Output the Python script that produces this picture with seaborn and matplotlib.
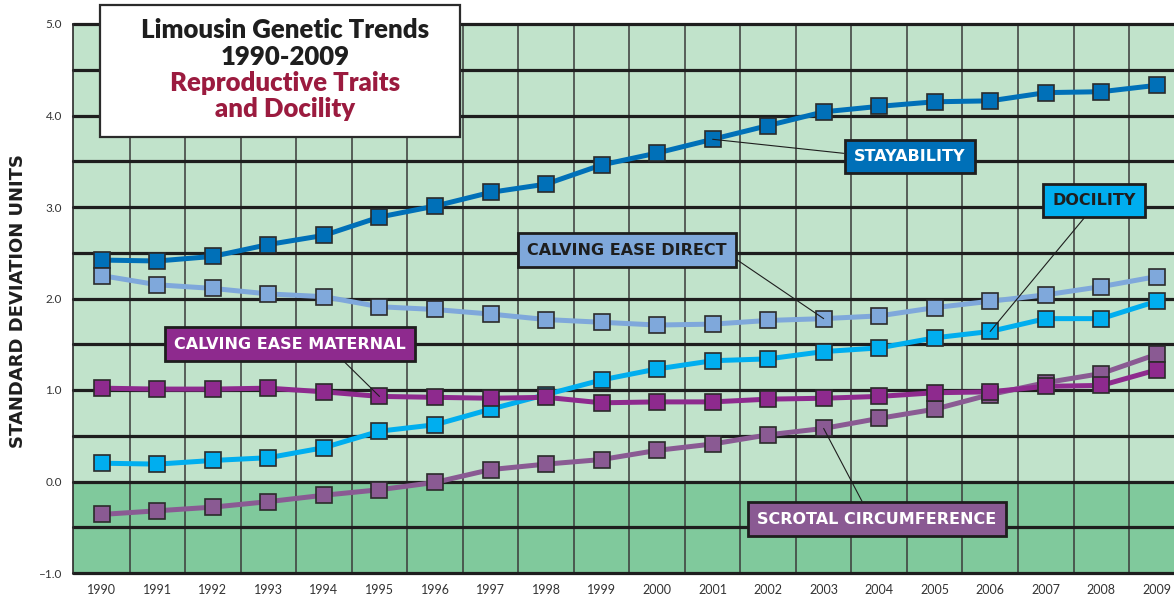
import numpy as np
import pandas as pd
import seaborn as sns
import matplotlib.pyplot as plt
from matplotlib.patches import Rectangle

years = list(range(1990, 2010))

stayability = [2.42, 2.41, 2.46, 2.59, 2.69, 2.89, 3.01, 3.16, 3.25, 3.46,
               3.59, 3.74, 3.89, 4.04, 4.10, 4.15, 4.16, 4.25, 4.26, 4.33]
calving_direct = [2.25, 2.15, 2.11, 2.05, 2.02, 1.91, 1.88, 1.83, 1.77, 1.74,
                  1.71, 1.72, 1.76, 1.78, 1.81, 1.90, 1.97, 2.04, 2.13, 2.24]
docility = [0.20, 0.19, 0.23, 0.26, 0.37, 0.55, 0.62, 0.79, 0.95, 1.11,
            1.23, 1.32, 1.34, 1.42, 1.46, 1.57, 1.64, 1.78, 1.78, 1.97]
scrotal = [-0.36, -0.32, -0.28, -0.22, -0.15, -0.09, -0.01, 0.13, 0.19, 0.24,
           0.34, 0.41, 0.51, 0.58, 0.69, 0.79, 0.95, 1.08, 1.18, 1.39]
calving_maternal = [1.02, 1.01, 1.01, 1.02, 0.98, 0.93, 0.92, 0.91, 0.92, 0.86,
                    0.87, 0.87, 0.90, 0.91, 0.93, 0.97, 0.98, 1.04, 1.05, 1.22]

traits = ["STAYABILITY", "CALVING EASE DIRECT", "DOCILITY",
          "SCROTAL CIRCUMFERENCE", "CALVING EASE MATERNAL"]
colors = {"STAYABILITY": "#0070b8", "CALVING EASE DIRECT": "#7fa8db",
          "DOCILITY": "#00aeef", "SCROTAL CIRCUMFERENCE": "#8a5a93",
          "CALVING EASE MATERNAL": "#8e2a8e"}
series = [stayability, calving_direct, docility, scrotal, calving_maternal]

df = pd.concat([pd.DataFrame({"year": years, "value": v, "trait": t})
                for t, v in zip(traits, series)], ignore_index=True)

sns.set_theme(style="white")
plt.rcParams["font.family"] = ["Lato", "DejaVu Sans"]

fig = plt.figure(figsize=(11.74, 6.02), dpi=100)
ax = fig.add_axes([73 / 1174, 29 / 602, 1101 / 1174, 549 / 602])

# background bands
ax.axhspan(0, 5, color="#c1e3cb", zorder=0)
ax.axhspan(-1, 0, color="#80c99c", zorder=0)

# grid
for x in np.arange(1990.5, 2009.5, 1):
    ax.axvline(x, color="#3a3a3a", lw=1.1, zorder=1)
for y in np.arange(-1, 5.01, 0.5):
    ax.axhline(y, color="#1e1e1e", lw=2.3, zorder=1, clip_on=False)

sns.lineplot(data=df, x="year", y="value", hue="trait", hue_order=traits,
             palette=colors, style="trait", style_order=traits,
             markers={t: "s" for t in traits}, dashes=False, linewidth=3.6,
             markersize=12, markeredgecolor="#2b2b2b", markeredgewidth=1.2,
             legend=False, ax=ax, zorder=3)

ax.set_xlim(1989.48, 2009.31)
ax.set_ylim(-1, 5)
ax.set_xticks(years)
ax.set_xticklabels([str(y) for y in years], fontsize=9, color="#333333")
ax.set_yticks(range(-1, 6))
ax.set_yticklabels([f"{v:.1f}".replace("-", "\u2013") for v in range(-1, 6)],
                   fontsize=8.5, color="#333333")
ax.tick_params(axis="both", length=0, pad=8)
ax.set_xlabel("")
ax.set_ylabel("")
for s in ["top", "right", "bottom"]:
    ax.spines[s].set_visible(False)
ax.spines["left"].set_color("#2b2b2b")
ax.spines["left"].set_linewidth(1.2)

# series labels
labels = [
    ("STAYABILITY", 2001, 3.74, 2004.55, 3.55, (0.0, 0.65), "white"),
    ("DOCILITY", 2006, 1.64, 2007.87, 3.07, (0.48, 0.0), "#1e1e1e"),
    ("CALVING EASE DIRECT", 2003, 1.78, 1999.46, 2.53, (1.0, 0.3), "#1e1e1e"),
    ("CALVING EASE MATERNAL", 1995, 0.93, 1993.39, 1.50, (0.69, 0.0), "white"),
    ("SCROTAL CIRCUMFERENCE", 2003, 0.58, 2003.96, -0.41, (0.46, 1.0), "white"),
]
for name, px, py, tx, ty, rel, tc in labels:
    ax.annotate(name, xy=(px, py), xytext=(tx, ty), ha="center", va="center",
                fontsize=11.5, fontweight="bold", color=tc, zorder=6,
                family="DejaVu Sans",
                bbox=dict(boxstyle="square,pad=0.58", fc=colors[name],
                          ec="#1e1e1e", lw=2),
                arrowprops=dict(arrowstyle="-", color="#1e1e1e", lw=0.8,
                                relpos=rel, shrinkA=0, shrinkB=0))

# title box
fig.patches.append(Rectangle((100 / 1174, 1 - 137 / 602), 360 / 1174, 132 / 602,
                             transform=fig.transFigure, fc="white",
                             ec="#2b2b2b", lw=1.6, zorder=5))
fig.text(0.2428, 0.950, "Limousin Genetic Trends", ha="center", va="center",
         fontsize=18.5, fontweight="heavy", color="#1e1e1e", zorder=6)
fig.text(0.2428, 0.905, "1990-2009", ha="center", va="center",
         fontsize=18.5, fontweight="heavy", color="#1e1e1e", zorder=6)
fig.text(0.2428, 0.862, "Reproductive Traits", ha="center", va="center",
         fontsize=18.5, fontweight="heavy", color="#9b1b3f", zorder=6)
fig.text(0.2428, 0.819, "and Docility", ha="center", va="center",
         fontsize=18.5, fontweight="heavy", color="#9b1b3f", zorder=6)

fig.text(18 / 1174, 0.50, "STANDARD DEVIATION UNITS", rotation=90,
         ha="center", va="center", fontsize=13, fontweight="bold",
         color="#1e1e1e", family="DejaVu Sans")

fig.savefig("out.png", dpi=100)
